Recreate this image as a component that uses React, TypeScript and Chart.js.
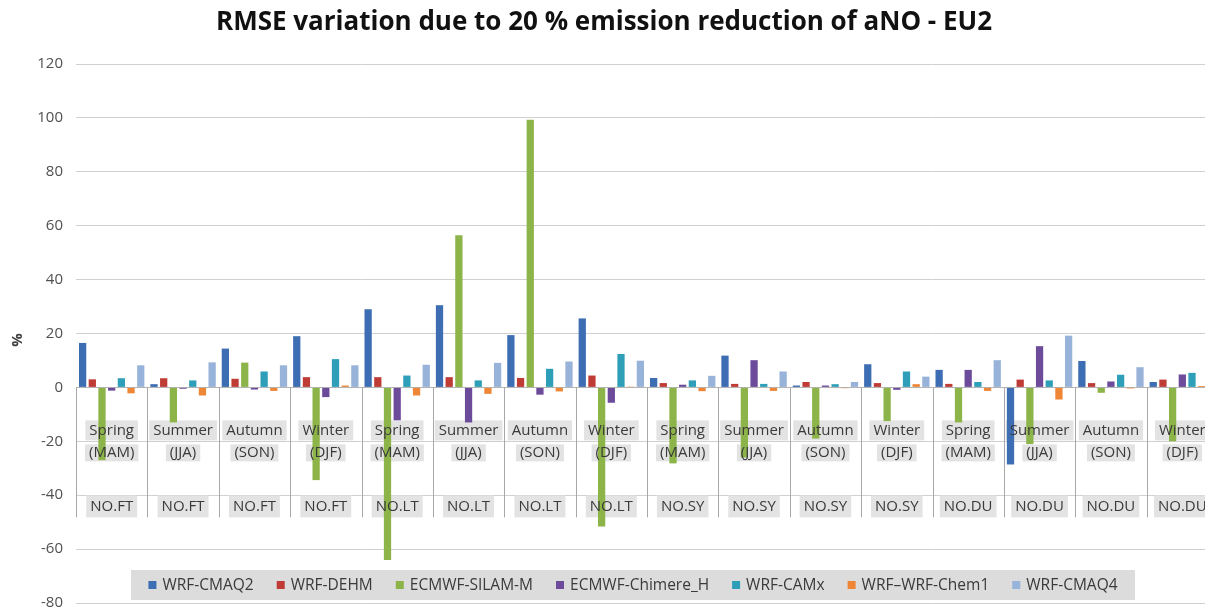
import React, { useEffect, useRef } from "react";
import { Chart, registerables } from "chart.js";

Chart.register(...registerables);

const seasons = ["Spring", "Summer", "Autumn", "Winter", "Spring", "Summer", "Autumn", "Winter", "Spring", "Summer", "Autumn", "Winter", "Spring", "Summer", "Autumn", "Winter"];
const seasonMonths = ["(MAM)", "(JJA)", "(SON)", "(DJF)", "(MAM)", "(JJA)", "(SON)", "(DJF)", "(MAM)", "(JJA)", "(SON)", "(DJF)", "(MAM)", "(JJA)", "(SON)", "(DJF)"];
const regions = ["NO.FT", "NO.FT", "NO.FT", "NO.FT", "NO.LT", "NO.LT", "NO.LT", "NO.LT", "NO.SY", "NO.SY", "NO.SY", "NO.SY", "NO.DU", "NO.DU", "NO.DU", "NO.DU"];

const seriesNames = ["WRF-CMAQ2", "WRF-DEHM", "ECMWF-SILAM-M", "ECMWF-Chimere_H", "WRF-CAMx", "WRF\u2013WRF-Chem1", "WRF-CMAQ4"];
const seriesColors = ["#3d6db3", "#bf3b36", "#8db449", "#6d4b9b", "#2f9fb9", "#ee8636", "#98b3d9"];

const wrfCmaq2 = [16.5, 1.2, 14.4, 19, 29, 30.5, 19.4, 25.6, 3.5, 11.8, 0.7, 8.6, 6.5, -28.6, 9.8, 2];
const wrfDehm = [3, 3.4, 3.2, 3.8, 3.8, 3.8, 3.5, 4.4, 1.6, 1.3, 2, 1.6, 1.3, 2.9, 1.6, 2.9];
const ecmwfSilam = [-27, -13, 9.2, -34.4, -64, 56.5, 99.3, -51.6, -28.2, -26, -19, -12.5, -13, -21, -2, -20];
const ecmwfChimere = [-1.2, -0.5, -0.8, -3.6, -12.2, -13, -2.7, -5.7, 1, 10.1, 0.7, -0.9, 6.5, 15.3, 2.2, 4.8];
const wrfCamx = [3.4, 2.6, 5.9, 10.5, 4.4, 2.6, 6.9, 12.4, 2.6, 1.3, 1.2, 5.9, 2, 2.6, 4.7, 5.4];
const wrfChem1 = [-2.2, -3, -1.3, 0.7, -3, -2.4, -1.5, 0.3, -1.4, -1.3, -0.3, 1.2, -1.3, -4.5, -0.4, 0.5];
const wrfCmaq4 = [8.2, 9.3, 8.2, 8.2, 8.4, 9.1, 9.6, 9.9, 4.3, 5.9, 2, 4, 10.1, 19.2, 7.5, null];

const seriesValues = [wrfCmaq2, wrfDehm, ecmwfSilam, ecmwfChimere, wrfCamx, wrfChem1, wrfCmaq4];

const yMin = -80;
const yMax = 120;
const yStep = 20;

const titleText = "RMSE variation due to 20 % emission reduction of aNO - EU2";
const yTitleText = "%";

const FONT = "'Open Sans', 'DejaVu Sans', sans-serif";

const overlayPlugin = {
  id: "overlay",
  beforeDatasetsDraw(chart: any) {
    const ctx = chart.ctx;
    const xs = chart.scales.x;
    const ys = chart.scales.y;
    const y0 = ys.getPixelForValue(0);
    const n = regions.length;
    const cw = (chart.chartArea.right - chart.chartArea.left) / n;
    ctx.save();
    ctx.font = `15px ${FONT}`;
    ctx.fillStyle = "#e3e3e3";
    for (let i = 0; i < n; i++) {
      const cx = xs.getPixelForValue(i);
      const w1 = ctx.measureText(seasons[i]).width + 8;
      const w2 = ctx.measureText(seasonMonths[i]).width + 8;
      const w3 = ctx.measureText(regions[i]).width + 8;
      ctx.fillRect(cx - w1 / 2, y0 + 33, w1, 20);
      ctx.fillRect(cx - w2 / 2, y0 + 57, w2, 17);
      ctx.fillRect(cx - w3 / 2, y0 + 108, w3, 22);
    }
    ctx.strokeStyle = "#a8a8a8";
    ctx.lineWidth = 1;
    for (let i = 0; i <= n; i++) {
      const x = Math.round(chart.chartArea.left + i * cw) + 0.5;
      ctx.beginPath();
      ctx.moveTo(x, y0);
      ctx.lineTo(x, y0 + 130);
      ctx.stroke();
    }
    ctx.restore();
  },
  afterDatasetsDraw(chart: any) {
    const ctx = chart.ctx;
    const xs = chart.scales.x;
    const ys = chart.scales.y;
    const y0 = ys.getPixelForValue(0);
    ctx.save();
    ctx.font = `15px ${FONT}`;
    ctx.fillStyle = "#3a3a3a";
    ctx.textAlign = "center";
    ctx.textBaseline = "middle";
    for (let i = 0; i < regions.length; i++) {
      const cx = xs.getPixelForValue(i);
      ctx.fillText(seasons[i], cx, y0 + 43.5);
      ctx.fillText(seasonMonths[i], cx, y0 + 65);
      ctx.fillText(regions[i], cx, y0 + 119.5);
    }
    ctx.restore();
  },
  afterDraw(chart: any) {
    const ctx = chart.ctx;
    ctx.save();
    ctx.font = `bold 26px ${FONT}`;
    ctx.fillStyle = "#111111";
    ctx.textAlign = "center";
    ctx.textBaseline = "middle";
    ctx.fillText(titleText, 604, 23);
    ctx.save();
    ctx.translate(18, 340);
    ctx.rotate(-Math.PI / 2);
    ctx.font = `bold 15px ${FONT}`;
    ctx.fillStyle = "#404040";
    ctx.fillText(yTitleText, 0, 0);
    ctx.restore();
    const boxL = 131;
    const boxR = 1135;
    const boxT = 570;
    const boxB = 600;
    ctx.fillStyle = "#dcdcdc";
    ctx.fillRect(boxL, boxT, boxR - boxL, boxB - boxT);
    ctx.font = `15.5px ${FONT}`;
    const marker = 8;
    const gapMT = 6;
    const gapItem = 23;
    const widths = seriesNames.map((s) => ctx.measureText(s).width);
    const total = widths.reduce((a, w) => a + marker + gapMT + w, 0) + gapItem * (seriesNames.length - 1);
    let x = (boxL + boxR) / 2 - total / 2;
    const cy = (boxT + boxB) / 2;
    ctx.textAlign = "left";
    ctx.textBaseline = "middle";
    seriesNames.forEach((s, i) => {
      ctx.fillStyle = seriesColors[i];
      ctx.fillRect(x, cy - marker / 2, marker, marker);
      ctx.fillStyle = "#3a3a3a";
      ctx.fillText(s, x + marker + gapMT, cy + 0.5);
      x += marker + gapMT + widths[i] + gapItem;
    });
    ctx.restore();
  },
};

export default function App() {
  const ref = useRef<HTMLCanvasElement | null>(null);
  useEffect(() => {
    if (!ref.current) return;
    const chart = new Chart(ref.current, {
      type: "bar",
      data: {
        labels: regions.map((r, i) => `${r} ${seasons[i]} ${seasonMonths[i]}`),
        datasets: seriesNames.map((name, i) => ({
          label: name,
          data: seriesValues[i] as any,
          backgroundColor: seriesColors[i],
          borderWidth: 0,
          categoryPercentage: 0.95,
          barPercentage: 0.75,
        })),
      },
      options: {
        animation: false,
        responsive: true,
        maintainAspectRatio: false,
        layout: { padding: { left: 0, right: 2, top: 64, bottom: 20 } },
        plugins: {
          legend: { display: false },
          title: { display: false },
          tooltip: { enabled: false },
        },
        scales: {
          x: {
            display: false,
          },
          y: {
            min: yMin,
            max: yMax,
            ticks: {
              stepSize: yStep,
              color: "#505050",
              font: { family: FONT, size: 15 },
              padding: 13,
            },
            grid: {
              drawTicks: false,
              color: (c: any) => (c.tick && c.tick.value === 0 ? "#b4b4b4" : "#d0d0d0"),
            },
            border: { display: false },
            afterFit(scale: any) {
              scale.width = 76;
            },
          },
        },
      },
      plugins: [overlayPlugin],
    });
    return () => chart.destroy();
  }, []);
  return (
    <div style={{ position: "fixed", left: 0, top: 0, width: 1205, height: 611, overflow: "hidden", background: "#ffffff" }}>
      <div style={{ position: "absolute", left: 0, top: 0, width: 1220, height: 625 }}>
        <canvas ref={ref} />
      </div>
    </div>
  );
}
